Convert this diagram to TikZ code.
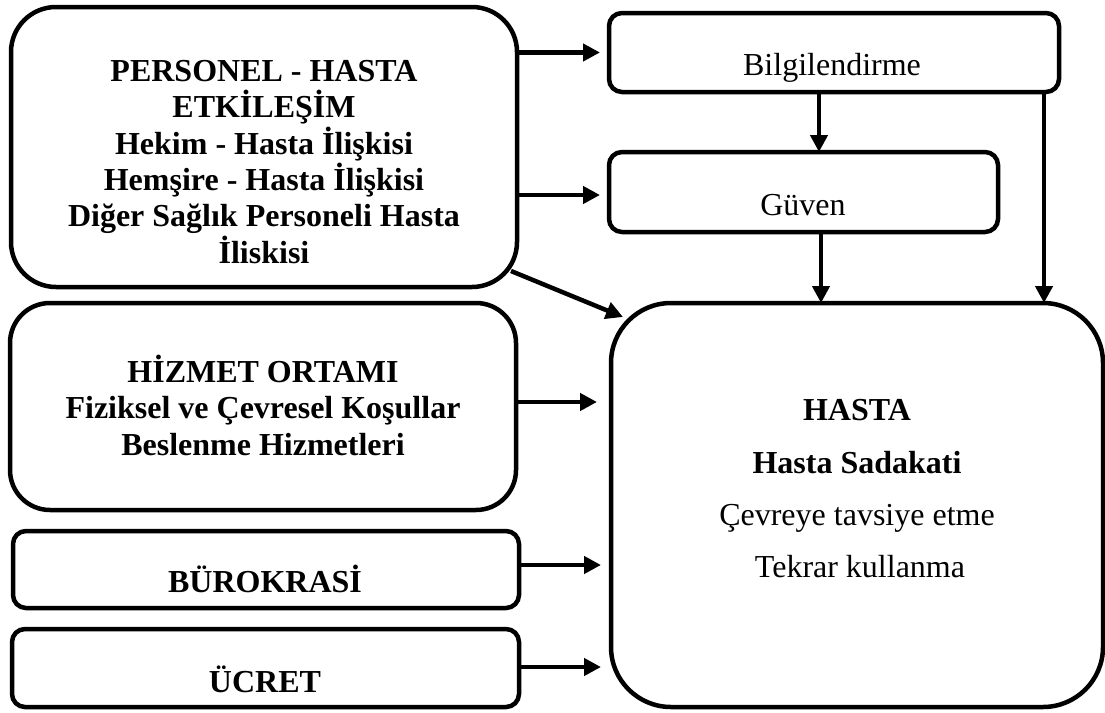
\documentclass[tikz,border=0pt]{standalone}
\usepackage{fontspec}
\setmainfont{Liberation Serif}
\usetikzlibrary{arrows.meta,calc}
\begin{document}
\begin{tikzpicture}[x=1pt,y=-1pt,
  box/.style={draw=black, line width=4.5pt, rounded corners=#1, fill=white,
              inner sep=0pt, outer sep=0pt},
  arr/.style={line width=4.5pt, -{Triangle[length=17pt,width=17pt]}},
  boldtxt/.style={font=\fontsize{32}{36.3}\selectfont\bfseries, align=center, inner sep=0pt},
  plaintxt/.style={font=\fontsize{32}{36.3}\selectfont, align=center, inner sep=0pt}]

\useasboundingbox (0,0) rectangle (1105,712);

% boxes
\node[box=45pt, minimum width=506pt, minimum height=280pt] (P)  at (264,147)   {};
\node[box=13pt, minimum width=450pt, minimum height=79pt]  (Bi) at (834,52.5)  {};
\node[box=13pt, minimum width=389pt, minimum height=80pt]  (G)  at (803.5,192) {};
\node[box=60pt, minimum width=492pt, minimum height=404pt] (Ha) at (857,505)   {};
\node[box=40pt, minimum width=506pt, minimum height=207pt] (Hz) at (263,406.5) {};
\node[box=13pt, minimum width=506pt, minimum height=77pt]  (Bu) at (266,569.5) {};
\node[box=13pt, minimum width=507pt, minimum height=78pt]  (U)  at (265.5,668) {};

% texts (multi-line nodes are placed by the baseline of their last line)
\node[boldtxt, anchor=base] (tP) at (264,263)
  {PERSONEL - HASTA\\ETKİLEŞİM\\Hekim - Hasta İlişkisi\\Hemşire - Hasta İlişkisi\\Diğer Sağlık Personeli Hasta\\İliskisi};
\node[plaintxt, anchor=base] (tBi) at (832,75) {Bilgilendirme};
\node[plaintxt, anchor=base] (tG) at (803,215) {Güven};
\node[boldtxt, anchor=base] (tHz) at (263,455)
  {HİZMET ORTAMI\\Fiziksel ve Çevresel Koşullar\\Beslenme Hizmetleri};
\node[boldtxt, anchor=base] (tBu) at (265,592) {BÜROKRASİ};
\node[boldtxt, anchor=base] (tU) at (265,692) {ÜCRET};
\node[boldtxt, anchor=base] (tHa1) at (857,420) {HASTA};
\node[boldtxt, anchor=base] (tHa2) at (857,473) {Hasta Sadakati};
\node[plaintxt, anchor=base] (tHa3) at (857,525) {Çevreye tavsiye etme};
\node[plaintxt, anchor=base] (tHa4) at (860,577) {Tekrar kullanma};

% connectors
\draw[arr] (P.east |- Bi.west) -- ($(Bi.west)+(-9,0)$);
\draw[arr] ($(P.east |- G.west)+(0,3)$) -- ($(G.west)+(-9,3)$);
\draw[arr] ($(P.south east)+(-6,-16)$) -- ($(Ha.north west)+(12,14)$);
\draw[arr] ($(Hz.east)+(0,-4.5)$) -- ($(Ha.west |- Hz.east)+(-14,-4.5)$);
\draw[arr] ($(Bu.east)+(0,-4.5)$) -- ($(Ha.west |- Bu.east)+(-10,-4.5)$);
\draw[arr] ($(U.east)+(0,-1)$) -- ($(Ha.west |- U.east)+(-10,-1)$);
\draw[arr] ($(Bi.south)+(-15,0)$) -- ($(G.north -| Bi.south)+(-15,0)$);
\draw[arr] ($(G.south)+(17.5,0)$) -- ($(Ha.north -| G.south)+(17.5,0)$);
\draw[arr] ($(Bi.south east)+(-15,0)$) -- ($(Ha.north -| Bi.south east)+(-15,0)$);
\end{tikzpicture}
\end{document}
